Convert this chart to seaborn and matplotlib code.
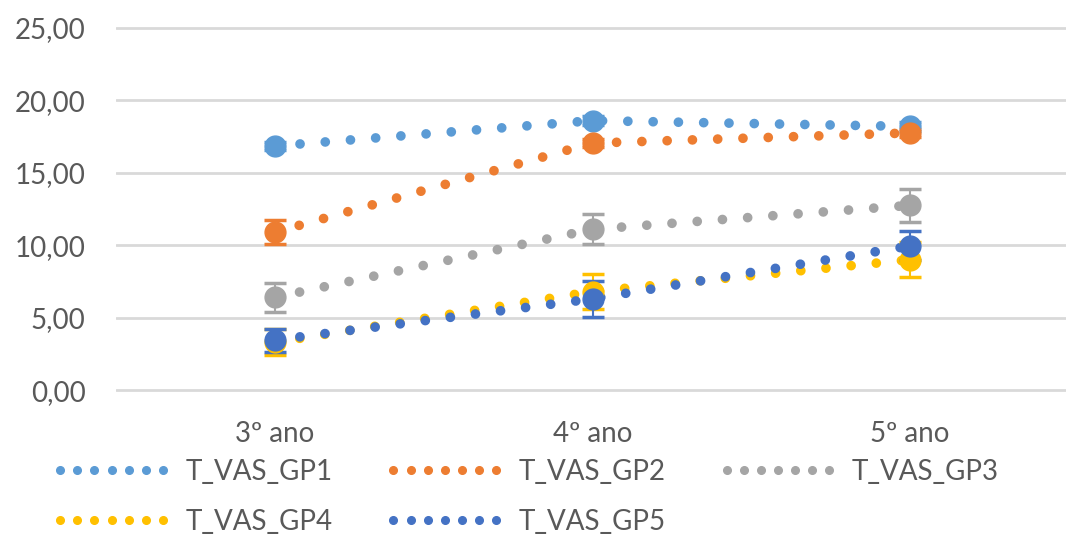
import pandas as pd
import seaborn as sns
import matplotlib.pyplot as plt
from matplotlib.lines import Line2D
from matplotlib.ticker import FuncFormatter

# categories and series
years = ["3º ano", "4º ano", "5º ano"]
groups = ["T_VAS_GP1", "T_VAS_GP2", "T_VAS_GP3", "T_VAS_GP4", "T_VAS_GP5"]

gp1 = [16.85, 18.6, 18.2]
gp2 = [10.9, 17.05, 17.75]
gp3 = [6.4, 11.1, 12.75]
gp4 = [3.3, 6.8, 9.0]
gp5 = [3.45, 6.3, 9.95]

gp1_err = [0.3, 0.3, 0.3]
gp2_err = [0.85, 0.3, 0.3]
gp3_err = [1.0, 1.05, 1.15]
gp4_err = [0.9, 1.2, 1.2]
gp5_err = [0.8, 1.25, 1.0]

colors = ["#5B9BD5", "#ED7D31", "#A5A5A5", "#FFC000", "#4472C4"]

values = [gp1, gp2, gp3, gp4, gp5]
errors = [gp1_err, gp2_err, gp3_err, gp4_err, gp5_err]

rows = []
for g, vals, errs in zip(groups, values, errors):
    for i, (v, e) in enumerate(zip(vals, errs)):
        rows.append({"group": g, "pos": i, "year": years[i], "value": v, "err": e})
df = pd.DataFrame(rows)

sns.set_style("white")
plt.rcParams["font.family"] = ["Lato", "DejaVu Sans"]
text_color = "#595959"

fig = plt.figure(figsize=(10.66, 5.34), dpi=100)
ax = fig.add_axes([116 / 1066, 141 / 534, 953 / 1066, 368 / 534])

for g, c in zip(groups, colors):
    sub = df[df["group"] == g]
    sns.lineplot(data=sub, x="pos", y="value", ax=ax, color=c, lw=7,
                 linestyle=(0, (0.001, 2.6)), dash_capstyle="round", zorder=3)
    ax.errorbar(sub["pos"], sub["value"], yerr=sub["err"], fmt="o", color=c,
                ms=15, elinewidth=1.5, capsize=8, capthick=2.5, zorder=4)

ax.set_xlim(-0.5, 2.5)
ax.set_ylim(-0.2, 25.2)
ax.set_yticks([0, 5, 10, 15, 20, 25])
ax.yaxis.set_major_formatter(FuncFormatter(lambda v, p: f"{v:.2f}".replace(".", ",")))
ax.set_xticks(range(len(years)))
ax.set_xticklabels(years)
ax.set_xlabel("")
ax.set_ylabel("")
ax.grid(axis="y", color="#d9d9d9", lw=2, zorder=0)
ax.grid(axis="x", visible=False)
for s in ax.spines.values():
    s.set_visible(False)
ax.tick_params(axis="both", length=0, labelsize=20, labelcolor=text_color)
ax.tick_params(axis="y", pad=22)
ax.tick_params(axis="x", pad=20)

# legend fills column by column, so reorder to read row by row
handles = [Line2D([], [], linestyle="none", marker="o", ms=5.5, color=c) for c in colors]
order = [0, 3, 1, 4, 2]
fig.legend([handles[i] for i in order], [groups[i] for i in order],
           loc="upper left", bbox_to_anchor=(38 / 1066, 1 - 445 / 534),
           ncol=3, numpoints=7, handlelength=4.3, handletextpad=0.5,
           columnspacing=1.9, labelspacing=0.85, frameon=False,
           fontsize=20, labelcolor=text_color, borderpad=0)

fig.savefig("out.png", dpi=100)
